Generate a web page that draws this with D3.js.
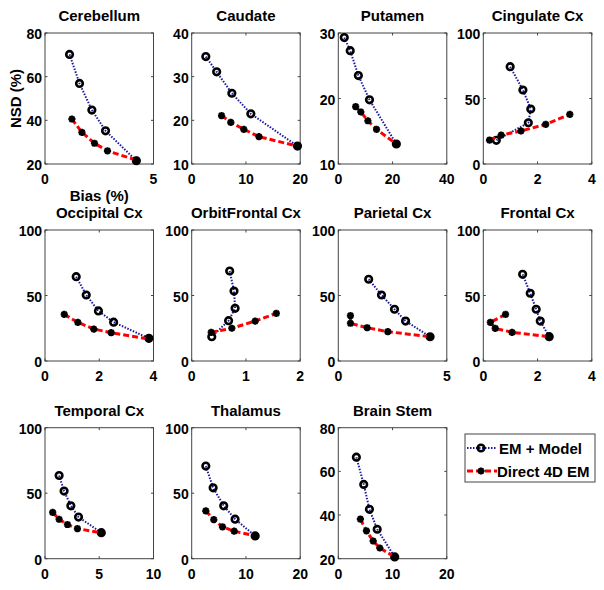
<!DOCTYPE html>
<html><head><meta charset="utf-8">
<script src="https://cdn.jsdelivr.net/npm/d3@7"></script>
<style>
body{margin:0;background:#fff;}
svg text{font-family:"Liberation Sans",Arial,sans-serif;font-weight:bold;fill:#000;}
</style></head><body>
<svg id="chart" width="604" height="590"></svg>
<script>
const regions = ["Cerebellum","Caudate","Putamen","Cingulate Cx","Occipital Cx","OrbitFrontal Cx","Parietal Cx","Frontal Cx","Temporal Cx","Thalamus","Brain Stem"];
const seriesNames = ["EM + Model","Direct 4D EM"];

const emModelBias = [
  [1.13,1.59,2.16,2.79,4.21],
  [2.6,4.6,7.4,10.9,19.5],
  [2.2,4.4,7.4,11.5,21.4],
  [0.99,1.46,1.75,1.66,0.48],
  [1.15,1.52,1.97,2.53,3.83],
  [0.70,0.78,0.80,0.68,0.37],
  [1.40,1.99,2.59,3.10,4.23],
  [1.45,1.73,1.95,2.10,2.43],
  [1.30,1.76,2.38,3.09,5.19],
  [2.6,3.95,5.9,8.0,11.7],
  [3.33,4.69,5.74,7.17,10.4]
];
const emModelNSD = [
  [70.2,56.9,44.7,35.2,21.5],
  [34.6,31.1,26.2,21.5,14.1],
  [29.3,27.3,23.5,19.8,13.05],
  [74.3,56.5,42.0,31.5,18.1],
  [64.4,50.4,38.2,29.6,17.3],
  [68.7,53.4,40.2,30.8,18.6],
  [62.4,50.4,39.5,30.5,18.5],
  [66.2,51.7,39.5,30.5,18.6],
  [63.5,51.6,40.4,31.8,19.9],
  [70.7,54.1,40.4,30.2,17.4],
  [66.5,54.0,42.6,33.5,20.8]
];
const directBias = [
  [1.24,1.70,2.28,2.88,4.21],
  [5.5,7.2,9.6,12.4,19.5],
  [6.4,8.3,10.9,14.1,21.4],
  [0.23,0.66,1.39,2.30,3.19],
  [0.71,1.21,1.80,2.44,3.83],
  [0.36,0.74,1.17,1.56],
  [0.56,0.56,1.33,2.28,4.23],
  [0.82,0.26,0.44,1.06,2.43],
  [0.71,1.30,2.07,2.99,5.19],
  [2.6,4.07,5.68,7.83,11.7],
  [4.07,5.19,6.43,7.65,10.4]
];
const directNSD = [
  [40.6,34.5,29.5,26.0,21.8],
  [21.1,19.55,17.95,16.25,14.1],
  [18.75,17.94,16.6,15.3,13.05],
  [18.3,22.1,25.2,30.3,37.9],
  [35.6,29.5,24.4,21.6,16.8],
  [21.9,25.0,30.5,36.4],
  [34.6,28.8,25.4,22.4,18.5],
  [35.6,29.5,24.9,21.9,18.6],
  [35.3,30.1,26.1,23.0,19.7],
  [36.5,29.9,24.3,21.0,17.4],
  [38.1,32.7,28.1,24.9,20.8]
];
const xTicks = [[0,5],[0,10,20],[0,20,40],[0,2,4],[0,2,4],[0,1,2],[0,5],[0,2,4],[0,5,10],[0,10,20],[0,10,20]];
const yTicks = [[20,40,60,80],[10,20,30,40],[10,20,30],[0,50,100],[0,50,100],[0,50,100],[0,50,100],[0,50,100],[0,50,100],[0,50,100],[20,40,60,80]];
const xLabel = "Bias (%)";
const yLabel = "NSD (%)";

const svg = d3.select("#chart");
const colLeft = [45, 191.7, 338.3, 483.3];
const rowTop = [33, 230, 427.7];
const W = 108.5, H = 131;
const axisColor = "#444";
const markerR = 3.3;

function starPath(cx, cy, r){
  const d = r*0.72;
  return `M${cx-r},${cy}L${cx+r},${cy}M${cx},${cy-r}L${cx},${cy+r}M${cx-d},${cy-d}L${cx+d},${cy+d}M${cx-d},${cy+d}L${cx+d},${cy-d}`;
}

regions.forEach((name, i) => {
  const col = i % 4, row = Math.floor(i / 4);
  const x0 = colLeft[col], y0 = rowTop[row];
  const xt = xTicks[i], yt = yTicks[i];
  const x = d3.scaleLinear().domain([xt[0], xt[xt.length-1]]).range([0, W]);
  const y = d3.scaleLinear().domain([yt[0], yt[yt.length-1]]).range([H, 0]);
  const g = svg.append("g").attr("transform", `translate(${x0},${y0})`);

  g.append("rect").attr("width", W).attr("height", H).attr("fill", "#fff");

  const tl = 2.5;
  xt.forEach(v => {
    g.append("line").attr("x1", x(v)).attr("x2", x(v)).attr("y1", H).attr("y2", H - tl).attr("stroke", axisColor);
    g.append("line").attr("x1", x(v)).attr("x2", x(v)).attr("y1", 0).attr("y2", tl).attr("stroke", axisColor);
    g.append("text").attr("x", x(v)).attr("y", H + 20).attr("text-anchor", "middle").attr("font-size", 14).text(v);
  });
  yt.forEach(v => {
    g.append("line").attr("x1", 0).attr("x2", tl).attr("y1", y(v)).attr("y2", y(v)).attr("stroke", axisColor);
    g.append("line").attr("x1", W).attr("x2", W - tl).attr("y1", y(v)).attr("y2", y(v)).attr("stroke", axisColor);
    g.append("text").attr("x", -3).attr("y", y(v) + 6).attr("text-anchor", "end").attr("font-size", 14).text(v);
  });
  g.append("rect").attr("width", W).attr("height", H).attr("fill", "none").attr("stroke", axisColor).attr("stroke-width", 1);

  g.append("text").attr("x", W/2).attr("y", -12).attr("text-anchor", "middle").attr("font-size", 15).text(name);

  const line = d3.line().x(d => x(d[0])).y(d => y(d[1]));
  const em = emModelBias[i].map((b, k) => [b, emModelNSD[i][k]]);
  const dr = directBias[i].map((b, k) => [b, directNSD[i][k]]);

  g.append("path").attr("d", line(em)).attr("fill", "none").attr("stroke", "#1a1a9a").attr("stroke-width", 2).attr("stroke-dasharray", "1.5,1.5");
  em.forEach(d => {
    g.append("circle").attr("cx", x(d[0])).attr("cy", y(d[1])).attr("r", markerR).attr("fill", "none").attr("stroke", "#000").attr("stroke-width", 2.6);
  });
  g.append("path").attr("d", line(dr)).attr("fill", "none").attr("stroke", "#f00").attr("stroke-width", 3).attr("stroke-dasharray", "6,3");
  dr.forEach(d => {
    g.append("path").attr("d", starPath(x(d[0]), y(d[1]), 3.6)).attr("stroke", "#000").attr("stroke-width", 2.2);
  });

  if (i === 0) {
    g.append("text").attr("x", W/2).attr("y", H + 37).attr("text-anchor", "middle").attr("font-size", 15).text(xLabel);
    g.append("text").attr("transform", `translate(${-24},${H/2}) rotate(-90)`).attr("text-anchor", "middle").attr("font-size", 15).text(yLabel);
  }
});

const lg = svg.append("g").attr("transform", "translate(465,434)");
lg.append("rect").attr("width", 130).attr("height", 48).attr("fill", "#fff").attr("stroke", axisColor);
lg.append("line").attr("x1", 2).attr("x2", 32).attr("y1", 14).attr("y2", 14).attr("stroke", "#1a1a9a").attr("stroke-width", 2).attr("stroke-dasharray", "1.5,1.5");
lg.append("circle").attr("cx", 16).attr("cy", 14).attr("r", markerR).attr("fill", "none").attr("stroke", "#000").attr("stroke-width", 2.6);
lg.append("text").attr("x", 34).attr("y", 19.5).attr("font-size", 15).text(seriesNames[0]);
lg.append("line").attr("x1", 2).attr("x2", 32).attr("y1", 37).attr("y2", 37).attr("stroke", "#f00").attr("stroke-width", 3).attr("stroke-dasharray", "6,3");
lg.append("path").attr("d", starPath(16, 37, 3.6)).attr("stroke", "#000").attr("stroke-width", 2.2);
lg.append("text").attr("x", 32).attr("y", 42.5).attr("font-size", 15).text(seriesNames[1]);
</script>
</body></html>
